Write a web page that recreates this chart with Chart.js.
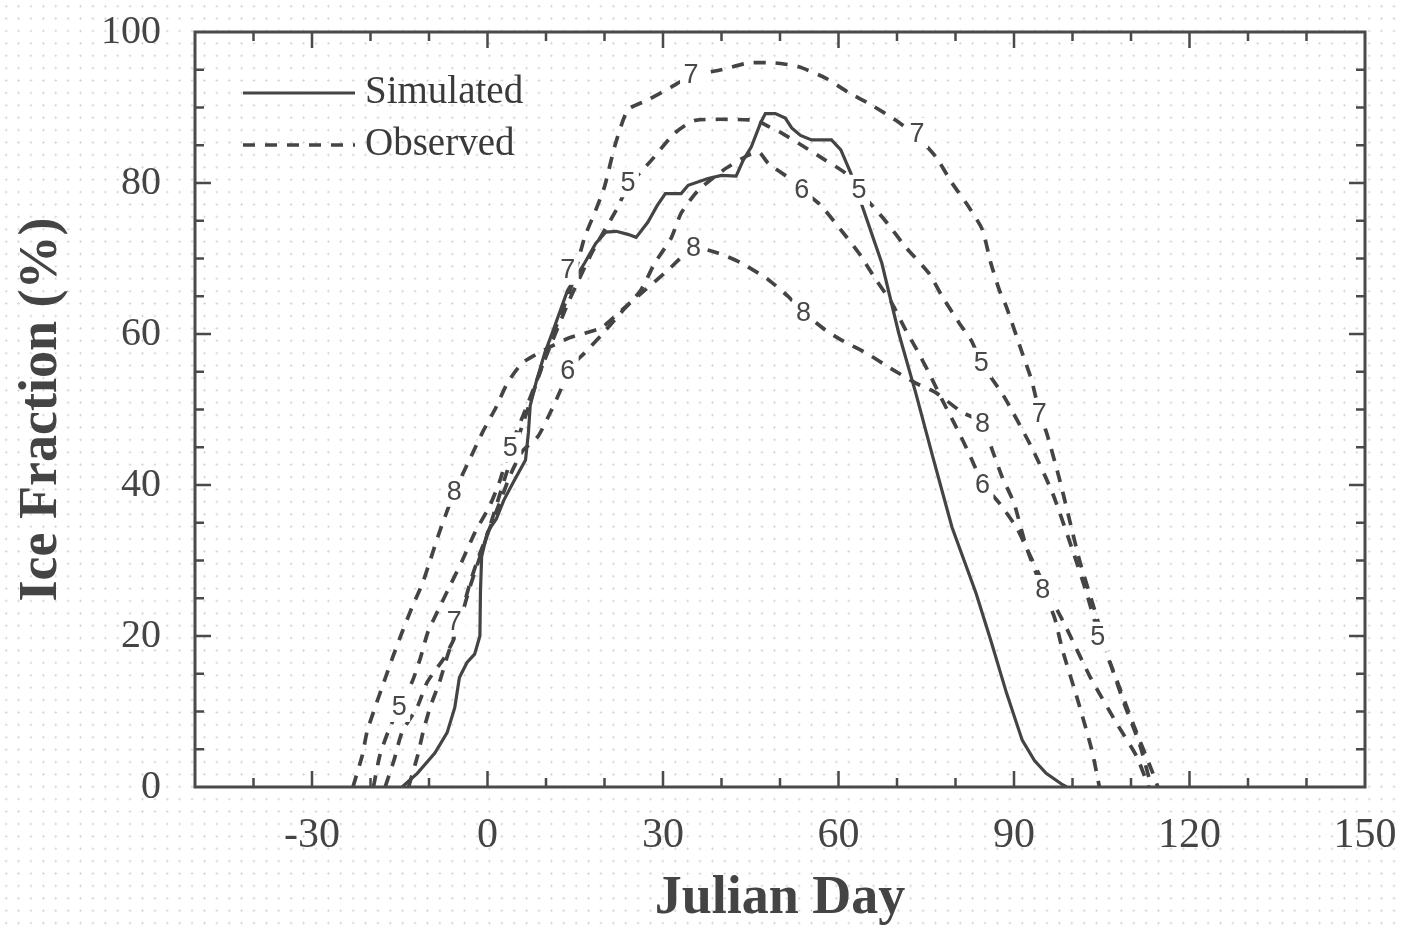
<!DOCTYPE html>
<html>
<head>
<meta charset="utf-8">
<title>Ice Fraction</title>
<script src="https://cdn.jsdelivr.net/npm/chart.js@4.4.1/dist/chart.umd.min.js"></script>
<style>
  html, body { margin: 0; padding: 0; }
  body {
    width: 1402px; height: 931px; overflow: hidden;
    background-color: #fff;
    background-image: radial-gradient(circle, #d4d4d4 0.9px, transparent 1.2px);
    background-size: 12.4px 12.4px;
  }
  #wrap { position: relative; width: 1402px; height: 931px; }
</style>
</head>
<body>
<div id="wrap"><canvas id="iceChart"></canvas></div>
<script>
  // axis ticks
  const dayTicks = [-30, 0, 30, 60, 90, 120, 150];
  const iceTicks = [0, 20, 40, 60, 80, 100];

  // simulated ice fraction
  const simDay = [-14.6, -12, -9, -6.9, -5.6, -4.8, -3.5, -2.2, -1.3, -1.2, -1, 0, 1.5, 2.8, 4.5, 6.5, 7, 7.3, 8.3, 9.8, 11, 13.7, 16.6, 18.5, 20.2, 22, 24, 25.4, 27.4, 29, 30.4, 33.1, 34.3, 37.7, 40, 42.5, 43.7, 45.1, 46.7, 47.5, 49.2, 50.9, 52, 53.5, 55.4, 58.8, 60.4, 62.1, 64.3, 67.4, 70.3, 73.2, 76.2, 79.4, 83.5, 86, 88.7, 91.4, 93.5, 95.5, 98.3, 99];
  const simIce = [0, 1.8, 4.5, 7.2, 10.5, 14.5, 16.5, 17.6, 20, 26, 30.5, 33.8, 35.5, 38, 40.5, 43.3, 47, 50.5, 53.6, 57.5, 60, 65.8, 69.4, 72, 73.5, 73.6, 73.2, 72.8, 74.8, 77, 78.6, 78.6, 79.7, 80.6, 81, 80.9, 83, 84.8, 88, 89.2, 89.2, 88.6, 87.3, 86.3, 85.7, 85.7, 84.4, 81.3, 76.4, 69.4, 60.1, 52.2, 43.5, 34.4, 25.7, 19.5, 12.5, 6.2, 3.5, 1.8, 0.3, 0];

  // observed, winter 5
  const obs5Day = [-19.5, -18.4, -17, -15.1, -12.9, -11.5, -10.2, -8.2, -6.2, -4.3, -2.1, 0.3, 2, 3.9, 6.5, 8, 10, 14, 18, 22, 24, 28, 32, 35.5, 45.8, 48, 50.3, 53.7, 57.8, 61.2, 63.5, 68, 71.5, 75.5, 77.7, 80.6, 82.8, 84.4, 88.3, 93, 96.6, 100, 102.4, 104.6, 106.9, 110.3, 113.7, 114.6];
  const obs5Ice = [0, 4.2, 7.3, 10.6, 13.9, 17, 20.5, 23.8, 27, 30, 33.8, 37.1, 40.3, 45, 50, 53, 57, 64.5, 71, 76.4, 79.5, 83, 86.6, 88.3, 88.3, 87.5, 86.6, 85, 83, 81.3, 79, 75, 71.5, 68, 65, 61.5, 59, 56.2, 51.7, 45, 38.9, 31.4, 25.7, 19.9, 15.5, 8.5, 1.9, 0];

  // observed, winter 6
  const obs6Day = [-13.5, -12, -11, -9.8, -8.2, -6.8, -5, -3, -1.5, 0, 2, 4, 6, 8.6, 10.8, 12.5, 13.7, 16.6, 19.4, 22.8, 26.2, 28.6, 31.4, 33.1, 36, 40.3, 44.6, 46.5, 48, 52, 53.7, 56.9, 60.4, 63.5, 66.4, 69.1, 71.5, 73.4, 75.5, 77.7, 80.1, 82.3, 84.6, 87.5, 90.4, 92.3, 95, 99, 103, 107.5, 111, 113];
  const obs6Ice = [0, 4, 7.3, 10.6, 13.9, 17.5, 21.5, 27, 30.5, 33.5, 37.5, 41.5, 44.5, 46.4, 49.7, 52.6, 55.2, 57.5, 59.8, 62.8, 65.8, 69.4, 72.7, 76, 79, 81.7, 83.7, 84, 82.6, 80.4, 79.1, 77.1, 73.8, 70.7, 67.2, 64.1, 60.5, 57.9, 54.8, 51.3, 47.7, 44.2, 40.3, 37.6, 34.4, 31.4, 27, 21, 14.6, 8.5, 4, 0];

  // observed, winter 7
  const obs7Day = [-17.5, -16, -14.6, -12, -10.3, -7.5, -5.8, -4.5, -3, 0, 3, 6, 9, 11.5, 14.2, 16.6, 18.4, 20, 21.8, 24, 27.4, 31.4, 34.8, 40, 44.6, 49.2, 53.2, 57.8, 61.7, 65.7, 69.8, 73.4, 76.7, 79.4, 82.3, 84.6, 86, 87.5, 88.7, 91.4, 93, 94.3, 95.7, 97.8, 99.8, 101.2, 103.8, 106.3, 108.9, 111.5, 113.5];
  const obs7Ice = [0, 3.5, 7.3, 10.6, 13.9, 17, 19.5, 22.5, 26.5, 33.5, 41, 48, 55, 60.5, 66, 72.8, 76.2, 79.5, 85, 89.7, 91, 92.7, 94.2, 95, 95.9, 95.9, 95.4, 93.9, 92, 90.3, 88.3, 86.2, 83.4, 80, 76.8, 73.8, 69.5, 65.8, 63.6, 57.5, 53.9, 49.8, 46.6, 40.7, 34.4, 30, 23.4, 16.8, 10.9, 5.6, 0];

  // observed, winter 8
  const obs8Day = [-23, -21.4, -20.6, -19.2, -17.7, -16.2, -14.6, -12.9, -11.1, -9.8, -8.2, -5.7, -3.1, -0.9, 1.4, 3.4, 6, 10, 14, 19.4, 23, 26.9, 30.9, 35.2, 39.5, 43.4, 48, 51.5, 54, 57.8, 60.5, 64.7, 68.6, 73.2, 76.7, 81, 84.6, 86.3, 88, 90, 92.1, 94.9, 96.9, 98.3, 100.9, 103.3, 104.6];
  const obs8Ice = [0, 4.2, 7.3, 10.6, 13.9, 17.2, 20.5, 23.8, 27, 30, 33.8, 39, 43.3, 46.9, 50.2, 53.5, 56.2, 58, 59.5, 60.8, 63.2, 65.8, 68.5, 71.4, 70.7, 69.4, 67.2, 64.9, 62.9, 60.5, 59.2, 57.5, 55.6, 53.5, 52.2, 49.7, 48.2, 44.6, 41, 37.6, 31.8, 26.1, 22.5, 18.1, 11.5, 4.9, 0];

  // curve numbers written along the observed lines
  const markText = ['5', '5', '5', '5', '5', '5', '6', '6', '6', '7', '7', '7', '7', '7', '8', '8', '8', '8', '8'];
  const markDay = [-15.1, 3.9, 24.0, 63.5, 84.4, 104.3, 13.7, 53.7, 84.6, -5.7, 13.7, 34.8, 73.4, 94.3, -5.7, 35.2, 54.0, 84.6, 94.9];
  const markIce = [10.6, 45.0, 80.1, 79.1, 56.2, 19.9, 55.2, 79.1, 40.0, 21.9, 68.5, 94.3, 86.6, 49.5, 39.1, 71.4, 62.9, 48.2, 26.1];

  const ink = '#444';
  const serif = "'Liberation Serif', 'DejaVu Serif', serif";
  const dash = [12, 10];

  function points(days, vals) {
    return days.map((d, i) => ({ x: d, y: vals[i] }));
  }

  function observed(label, days, vals) {
    return {
      label: label,
      data: points(days, vals),
      borderColor: ink,
      borderWidth: 3.7,
      borderDash: dash,
      tension: 0.2,
      pointRadius: 0,
      fill: false
    };
  }

  // frame, inward tick marks, curve numbers and the legend
  const paperFrame = {
    id: 'paperFrame',
    afterDatasetsDraw(chart) {
      const { ctx, chartArea: a } = chart;
      const x = chart.scales.x, y = chart.scales.y;
      ctx.save();

      ctx.font = "27px 'Liberation Sans', Arial, sans-serif";
      ctx.textAlign = 'center';
      ctx.textBaseline = 'middle';
      markText.forEach((t, i) => {
        const px = x.getPixelForValue(markDay[i]);
        const py = y.getPixelForValue(markIce[i]);
        ctx.fillStyle = '#fff';
        ctx.fillRect(px - 11, py - 15, 22, 30);
        ctx.fillStyle = '#484848';
        ctx.fillText(t, px, py + 1);
      });

      ctx.strokeStyle = '#4a4a4a';
      ctx.lineWidth = 3;
      ctx.strokeRect(a.left, a.top, a.width, a.height);

      ctx.lineWidth = 2.5;
      ctx.beginPath();
      for (let d = -40; d < 150; d += 10) {
        const px = x.getPixelForValue(d);
        const len = d % 30 === 0 ? 16 : 9;
        ctx.moveTo(px, a.bottom); ctx.lineTo(px, a.bottom - len);
        ctx.moveTo(px, a.top); ctx.lineTo(px, a.top + len);
      }
      for (let v = 5; v < 100; v += 5) {
        const py = y.getPixelForValue(v);
        const len = v % 20 === 0 ? 16 : 9;
        ctx.moveTo(a.left, py); ctx.lineTo(a.left + len, py);
        ctx.moveTo(a.right, py); ctx.lineTo(a.right - len, py);
      }
      ctx.stroke();

      // legend
      const lx = a.left + 48, ly1 = a.top + 61, ly2 = a.top + 113;
      ctx.strokeStyle = ink;
      ctx.lineWidth = 3;
      ctx.beginPath();
      ctx.moveTo(lx, ly1); ctx.lineTo(lx + 112, ly1);
      ctx.stroke();
      ctx.setLineDash(dash);
      ctx.lineWidth = 3.5;
      ctx.beginPath();
      ctx.moveTo(lx, ly2); ctx.lineTo(lx + 112, ly2);
      ctx.stroke();
      ctx.setLineDash([]);
      ctx.fillStyle = '#3a3a3a';
      ctx.font = '39px ' + serif;
      ctx.textAlign = 'left';
      ctx.fillText('Simulated', lx + 122, ly1);
      ctx.fillText('Observed', lx + 122, ly2);

      ctx.restore();
    }
  };

  new Chart(document.getElementById('iceChart'), {
    type: 'line',
    data: {
      datasets: [
        {
          label: 'Simulated',
          data: points(simDay, simIce),
          borderColor: ink,
          borderWidth: 3.2,
          tension: 0,
          pointRadius: 0,
          fill: false
        },
        observed('Observed 5', obs5Day, obs5Ice),
        observed('Observed 6', obs6Day, obs6Ice),
        observed('Observed 7', obs7Day, obs7Ice),
        observed('Observed 8', obs8Day, obs8Ice)
      ]
    },
    options: {
      responsive: true,
      maintainAspectRatio: false,
      animation: false,
      layout: { padding: { left: 10, top: 32, right: 37, bottom: 0 } },
      plugins: {
        legend: { display: false },
        tooltip: { enabled: false }
      },
      scales: {
        x: {
          type: 'linear',
          min: -50,
          max: 150,
          grid: { display: false, drawTicks: false },
          border: { display: false },
          afterBuildTicks: s => { s.ticks = dayTicks.map(v => ({ value: v })); },
          afterFit: s => {
            s.height = 144;
            s.paddingLeft = 0;
            s.paddingRight = 0;
          },
          ticks: { padding: 24, maxRotation: 0, color: '#444', font: { family: serif, size: 42 } },
          title: {
            display: true,
            text: 'Julian Day',
            color: '#444',
            padding: { top: 0, bottom: 0 },
            font: { family: serif, size: 54, weight: 'bold' }
          }
        },
        y: {
          min: 0,
          max: 100,
          grid: { display: false, drawTicks: false },
          border: { display: false },
          afterBuildTicks: s => { s.ticks = iceTicks.map(v => ({ value: v })); },
          afterFit: s => {
            s.width = 185;
            s.paddingTop = 0;
            s.paddingBottom = 0;
          },
          ticks: { padding: 34, color: '#444', font: { family: serif, size: 40 } },
          title: {
            display: true,
            text: 'Ice Fraction (%)',
            color: '#444',
            padding: { top: 0, bottom: 0 },
            font: { family: serif, size: 54, weight: 'bold' }
          }
        }
      }
    },
    plugins: [paperFrame]
  });
</script>
</body>
</html>
